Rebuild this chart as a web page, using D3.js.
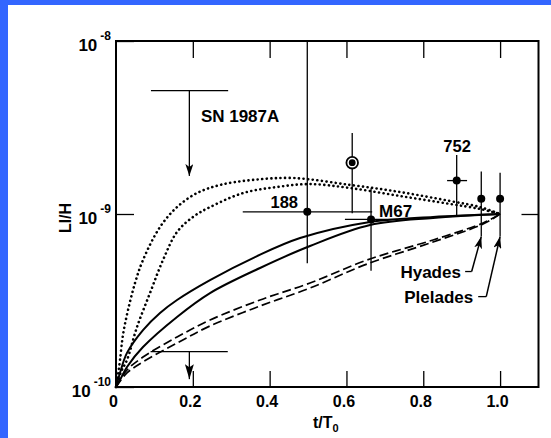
<!DOCTYPE html>
<html><head><meta charset="utf-8">
<script src="https://cdn.jsdelivr.net/npm/d3@7/dist/d3.min.js"></script>
<style>
html,body{margin:0;padding:0;background:#fff;}
svg{display:block;}
text{font-family:"Liberation Sans",Arial,Helvetica,sans-serif;font-weight:bold;fill:#000;}
</style></head>
<body>
<script>
// ---------- data ----------
const xTicks = [0, 0.2, 0.4, 0.6, 0.8, 1.0];
const xTickLabels = ["0", "0.2", "0.4", "0.6", "0.8", "1.0"];
const yTicks = [1e-10, 1e-9, 1e-8];
const yTickExponents = ["-10", "-9", "-8"];

// curves: t/T0 and log10(Li/H)
const tDotOuter   = [0, 0.0052, 0.0104, 0.0182, 0.0313, 0.0495, 0.0703, 0.1146, 0.1589, 0.2109, 0.2708, 0.3568, 0.4609, 0.6094, 0.7396, 0.8698, 0.9479, 1.0];
const logDotOuter = [-10, -9.931, -9.844, -9.699, -9.555, -9.399, -9.266, -9.075, -8.960, -8.879, -8.832, -8.803, -8.792, -8.832, -8.873, -8.925, -8.960, -9.0];
const tDotInner   = [0, 0.0130, 0.0286, 0.0547, 0.0885, 0.1224, 0.1589, 0.2005, 0.2448, 0.3307, 0.4193, 0.5052, 0.6094, 0.7396, 0.8698, 0.9479, 1.0];
const logDotInner = [-10, -9.913, -9.844, -9.653, -9.457, -9.266, -9.104, -9.017, -8.960, -8.879, -8.844, -8.827, -8.850, -8.896, -8.942, -8.971, -9.0];
const tSolidUpper   = [0, 0.0104, 0.0286, 0.0703, 0.1146, 0.1589, 0.2448, 0.3620, 0.4792, 0.6615, 0.8255, 1.0];
const logSolidUpper = [-10, -9.919, -9.803, -9.671, -9.572, -9.497, -9.382, -9.249, -9.139, -9.046, -9.017, -9.0];
const tSolidLower   = [0, 0.0130, 0.0286, 0.0703, 0.1589, 0.2448, 0.375, 0.5052, 0.6615, 0.8255, 1.0];
const logSolidLower = [-10, -9.948, -9.884, -9.769, -9.595, -9.457, -9.312, -9.185, -9.064, -9.023, -9.0];
const tDash          = [0, 0.0286, 0.0703, 0.1589, 0.2448, 0.375, 0.5052, 0.6536, 0.8255, 0.9557, 1.0];
const logDashUpper   = [-10, -9.902, -9.827, -9.711, -9.613, -9.497, -9.399, -9.266, -9.150, -9.052, -9.0];
const logDashLower   = [-10, -9.919, -9.855, -9.746, -9.647, -9.532, -9.428, -9.289, -9.162, -9.058, -9.0];

// measured points
const pointNames = ["188", "circled", "M67", "752", "Hyades", "Pleiades"];
const pointT     = [0.498, 0.615, 0.664, 0.887, 0.951, 1.0];
const pointY     = [1.03e-9, 1.98e-9, 0.93e-9, 1.56e-9, 1.225e-9, 1.225e-9];
const pointYLow  = [5.2e-10, 1.01e-9, 4.7e-10, 9.6e-10, 7.4e-10, 7.4e-10];
const pointYHigh = [1e-8, 2.94e-9, 1.41e-9, 2.19e-9, 1.76e-9, 1.73e-9];
const pointTLow  = [0.33, null, 0.596, 0.862, null, null];
const pointTHigh = [0.667, null, 0.732, 0.914, null, null];
const pointCircled = [false, true, false, false, false, false];

// upper limits (SN 1987A and lower limit bar)
const ulT     = [0.191, 0.191];
const ulTLow  = [0.091, 0.09];
const ulTHigh = [0.292, 0.291];
const ulY     = [5.17e-9, 1.6e-10];
const ulTipY  = [1.66e-9, 1.11e-10];

// text labels (data coordinates)
const labelText   = ["SN 1987A", "188", "M67", "752", "Hyades", "Plelades"];
const labelT      = [0.221, 0.474, 0.685, 0.888, 0.898, 0.930];
const labelY      = [3.4e-9, 1.08e-9, 0.962e-9, 2.28e-9, 4.27e-10, 3.06e-10];
const labelAnchor = ["start", "end", "start", "middle", "end", "end"];

// label pointer arrows (Hyades, Pleiades)
const ptrTailT = [0.926, 0.964];
const ptrTailY = [4.65e-10, 3.33e-10];
const ptrDashT = [0.909, 0.943];
const ptrTipT  = [0.951, 1.0];
const ptrTipY  = [7.4e-10, 7.4e-10];

// ---------- drawing ----------
const W = 551, H = 438;
const svg = d3.select("body").append("svg").attr("width", W).attr("height", H);

svg.append("rect").attr("x",0).attr("y",0).attr("width",W).attr("height",H).attr("fill","#fff");
svg.append("rect").attr("x",0).attr("y",0).attr("width",W).attr("height",5).attr("fill","#3366ff");
svg.append("rect").attr("x",0).attr("y",0).attr("width",8).attr("height",H).attr("fill","#3366ff");

const x = d3.scaleLinear().domain([0, 1.1]).range([116, 538.5]);
const y = d3.scaleLog().domain([1e-10, 1e-8]).range([387, 41]);

const defs = svg.append("defs");
defs.append("marker").attr("id","arr").attr("viewBox","0 0 12 8")
  .attr("refX",12).attr("refY",4).attr("markerWidth",12).attr("markerHeight",8)
  .attr("markerUnits","userSpaceOnUse").attr("orient","auto")
  .append("path").attr("d","M0,0 L12,4 L0,8 L3,4 Z").attr("fill","#000");
defs.append("marker").attr("id","arrBig").attr("viewBox","0 0 15 9")
  .attr("refX",15).attr("refY",4.5).attr("markerWidth",15).attr("markerHeight",9)
  .attr("markerUnits","userSpaceOnUse").attr("orient","auto")
  .append("path").attr("d","M0,0 L15,4.5 L0,9 L3,4.5 Z").attr("fill","#000");

// axes
const gB = svg.append("g").attr("transform", `translate(0,${y(1e-10)})`)
  .call(d3.axisBottom(x).tickValues(xTicks).tickSize(-16).tickPadding(9)
        .tickFormat((d,i) => xTickLabels[i]));
gB.select(".domain").remove();
gB.selectAll("text").attr("font-size", 16).attr("dx", -3).attr("fill","#000")
  .attr("font-family", '"Liberation Sans",Arial,sans-serif').attr("font-weight","bold");

const gT = svg.append("g").attr("transform", `translate(0,${y(1e-8)})`)
  .call(d3.axisTop(x).tickValues(xTicks.slice(1)).tickSize(-17).tickFormat(""));
gT.select(".domain").remove();

const gL = svg.append("g").attr("transform", `translate(${x(0)},0)`)
  .call(d3.axisLeft(y).tickValues(yTicks).tickSize(-18).tickFormat(""));
gL.select(".domain").remove();
const gR = svg.append("g").attr("transform", `translate(${x(1.1)},0)`)
  .call(d3.axisRight(y).tickValues([1e-9]).tickSize(-17).tickFormat(""));
gR.select(".domain").remove();
svg.selectAll(".tick line").attr("stroke","#000").attr("stroke-width",1.3);

// y tick labels 10^n
yTicks.forEach((v, i) => {
  const t = svg.append("text").attr("x", 111).attr("y", y(v) + 10)
    .attr("text-anchor","end");
  t.append("tspan").attr("font-size", 17).text("10");
  t.append("tspan").attr("font-size", 12).attr("dx", 3).attr("dy", -11).text(yTickExponents[i]);
});

// frame
svg.append("rect").attr("x", x(0)).attr("y", y(1e-8))
  .attr("width", x(1.1) - x(0)).attr("height", y(1e-10) - y(1e-8))
  .attr("fill","none").attr("stroke","#000").attr("stroke-width",2);

// axis titles
const xt = svg.append("text").attr("x", 313).attr("y", 428).attr("font-size", 16);
xt.append("tspan").text("t/T");
xt.append("tspan").attr("font-size", 11).attr("dy", 4).text("0");
svg.append("text").attr("transform","translate(71,218) rotate(-90)")
  .attr("text-anchor","middle").attr("font-size", 16).text("Ll/H");

// curves
const line = d3.line().x(d => x(d[0])).y(d => y(Math.pow(10, d[1]))).curve(d3.curveCatmullRom.alpha(0.5));
const zip = (a, b) => a.map((v, i) => [v, b[i]]);
const curveDefs = [
  [tDotOuter, logDotOuter, "dot"],
  [tDotInner, logDotInner, "dot"],
  [tSolidUpper, logSolidUpper, "solid"],
  [tSolidLower, logSolidLower, "solid"],
  [tDash, logDashUpper, "dash"],
  [tDash, logDashLower, "dash"]
];
curveDefs.forEach(([t, l, s]) => {
  const p = svg.append("path").attr("d", line(zip(t, l))).attr("fill","none").attr("stroke","#000");
  if (s === "dot") p.attr("stroke-width", 2.6).attr("stroke-dasharray","0.1,4.5").attr("stroke-linecap","round");
  else if (s === "dash") p.attr("stroke-width", 1.7).attr("stroke-dasharray","9,4");
  else p.attr("stroke-width", 2);
});

// error bars and points
pointT.forEach((t, i) => {
  svg.append("line").attr("x1", x(t)).attr("x2", x(t))
    .attr("y1", y(pointYLow[i])).attr("y2", y(pointYHigh[i]))
    .attr("stroke","#000").attr("stroke-width",1.3);
  if (pointTLow[i] !== null) {
    svg.append("line").attr("x1", x(pointTLow[i])).attr("x2", x(pointTHigh[i]))
      .attr("y1", y(pointY[i])).attr("y2", y(pointY[i]))
      .attr("stroke","#000").attr("stroke-width",1.3);
  }
  if (pointCircled[i]) {
    svg.append("circle").attr("cx", x(t)).attr("cy", y(pointY[i])).attr("r", 5.8)
      .attr("fill","#fff").attr("stroke","#000").attr("stroke-width",1.8);
    svg.append("circle").attr("cx", x(t)).attr("cy", y(pointY[i])).attr("r", 3.4).attr("fill","#000");
  } else {
    svg.append("circle").attr("cx", x(t)).attr("cy", y(pointY[i])).attr("r", 4).attr("fill","#000");
  }
});

// upper-limit bars
ulT.forEach((t, i) => {
  svg.append("line").attr("x1", x(ulTLow[i])).attr("x2", x(ulTHigh[i]))
    .attr("y1", y(ulY[i])).attr("y2", y(ulY[i])).attr("stroke","#000").attr("stroke-width",1.3);
  svg.append("line").attr("x1", x(t)).attr("x2", x(t))
    .attr("y1", y(ulY[i])).attr("y2", y(ulTipY[i])).attr("stroke","#000").attr("stroke-width",1.3)
    .attr("marker-end", i === 0 ? "url(#arr)" : "url(#arrBig)");
});

// pointer arrows
ptrTailT.forEach((t, i) => {
  svg.append("line").attr("x1", x(ptrDashT[i])).attr("x2", x(t))
    .attr("y1", y(ptrTailY[i])).attr("y2", y(ptrTailY[i])).attr("stroke","#000").attr("stroke-width",1.3);
  svg.append("line").attr("x1", x(t)).attr("x2", x(ptrTipT[i]))
    .attr("y1", y(ptrTailY[i])).attr("y2", y(ptrTipY[i])).attr("stroke","#000").attr("stroke-width",1.5)
    .attr("marker-end","url(#arr)");
});

// labels
labelText.forEach((s, i) => {
  svg.append("text").attr("x", x(labelT[i])).attr("y", y(labelY[i]))
    .attr("text-anchor", labelAnchor[i]).attr("font-size", i === 1 || i === 3 ? 16.5 : 17).text(s);
});
</script>
</body></html>
